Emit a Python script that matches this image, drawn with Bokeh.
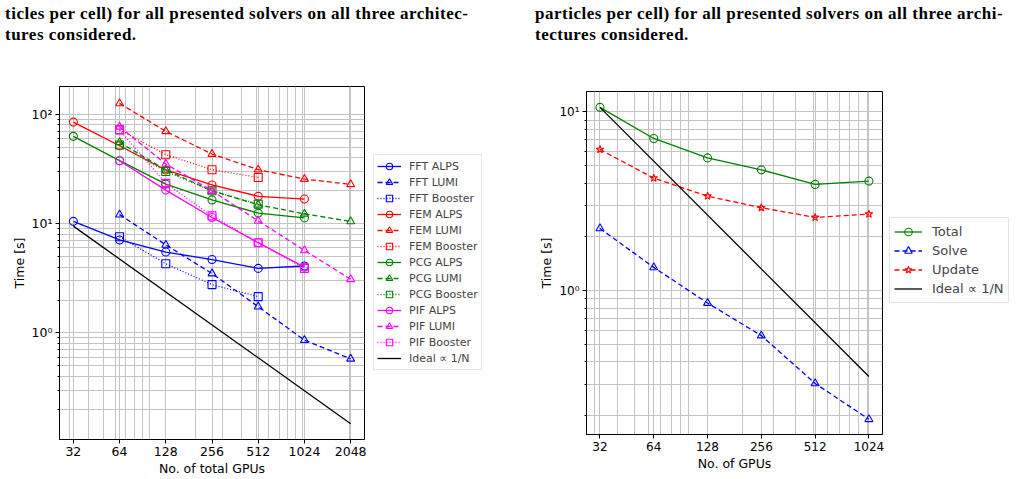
from bokeh.plotting import figure
from bokeh.models import FixedTicker, Legend, LegendItem, Div, Range1d, NumeralTickFormatter
from bokeh.layouts import column, row
from bokeh.embed import file_html
from bokeh.resources import INLINE

# ---------------- captions ----------------
caption_left = ["ticles per cell) for all presented solvers on all three architec-", "tures considered."]
caption_right = ["particles per cell) for all presented solvers on all three archi-", "tectures considered."]

# ---------------- left chart data ----------------
left_x_ticks = [32, 64, 128, 256, 512, 1024, 2048]
left_x_minor = [30, 40, 50, 60, 70, 80, 90, 100, 200, 300, 400, 500, 600, 700, 800, 900, 1000, 2000]
left_y_ticks = [1, 10, 100]
left_y_minor = [0.2, 0.3, 0.4, 0.5, 0.6, 0.7, 0.8, 0.9, 2, 3, 4, 5, 6, 7, 8, 9, 20, 30, 40, 50, 60, 70, 80, 90]
y_tick_labels = {1: "10\u2070", 10: "10\u00b9", 100: "10\u00b2"}

alps_gpus = [32, 64, 128, 256, 512, 1024]
pif_alps_gpus = [64, 128, 256, 512, 1024]
lumi_gpus = [64, 128, 256, 512, 1024, 2048]
booster_gpus = [64, 128, 256, 512]
pif_booster_gpus = [64, 128, 256, 512, 1024]

fft_alps = [10.5, 7.1, 5.5, 4.7, 3.9, 4.1]
fft_lumi = [12.1, 6.4, 3.5, 1.74, 0.86, 0.58]
fft_booster = [7.6, 4.3, 2.77, 2.15]
fem_alps = [85, 51.7, 31, 22.6, 17.8, 16.8]
fem_lumi = [126, 70, 43.4, 31.2, 25.6, 22.9]
fem_booster = [72.4, 42.8, 31.2, 26.5]
pcg_alps = [63, 37.7, 23, 16.5, 12.5, 11.3]
pcg_lumi = [55.5, 31, 20, 14.9, 12.3, 10.5]
pcg_booster = [52.5, 30, 20, 15.1]
pif_alps = [37.7, 20.3, 11.4, 6.7, 4.0]
pif_lumi = [77, 35.2, 20, 10.6, 5.7, 3.1]
pif_booster = [72, 23.4, 11.8, 6.7, 3.9]
ideal_left_gpus = [32, 2048]
ideal_left = [9.5, 0.148]

# ---------------- right chart data ----------------
right_x_ticks = [32, 64, 128, 256, 512, 1024]
right_x_minor = [30, 40, 50, 60, 70, 80, 90, 100, 200, 300, 400, 500, 600, 700, 800, 900, 1000]
right_y_ticks = [1, 10]
right_y_minor = [0.2, 0.3, 0.4, 0.5, 0.6, 0.7, 0.8, 0.9, 2, 3, 4, 5, 6, 7, 8, 9]
right_gpus = [32, 64, 128, 256, 512, 1024]
total = [10.6, 7.1, 5.53, 4.74, 3.93, 4.1]
solve = [2.23, 1.35, 0.853, 0.561, 0.303, 0.191]
update = [6.16, 4.26, 3.38, 2.91, 2.57, 2.68]
ideal_right_gpus = [32, 1024]
ideal_right = [10.6, 0.331]

BLUE, RED, GREEN, MAG = "#0000ff", "#ff0000", "#008000", "#ff00ff"
DASH = {"solid": "solid", "dashed": "5 3", "dotted": "1 2"}
GRID = "#c4c4c4"


def make_fig(fw, fh, xr, yr, mb, xt, xm, yt, ym, xlabel, tick_fs):
    p = figure(frame_width=fw, frame_height=fh, x_axis_type="log", y_axis_type="log",
               x_range=Range1d(*xr), y_range=Range1d(*yr),
               output_backend="svg", toolbar_location=None,
               min_border_left=mb[0], min_border_right=mb[1],
               min_border_top=mb[2], min_border_bottom=mb[3])
    p.background_fill_color = "white"
    p.border_fill_color = "white"
    p.outline_line_color = "black"
    p.outline_line_width = 1
    xtick = FixedTicker(ticks=xt, minor_ticks=xm)
    ytick = FixedTicker(ticks=yt, minor_ticks=ym)
    p.xaxis.ticker = FixedTicker(ticks=xt, minor_ticks=[])
    p.yaxis.ticker = ytick
    p.xgrid.ticker = xtick
    p.ygrid.ticker = ytick
    for g in (p.xgrid[0], p.ygrid[0]):
        g.grid_line_color = GRID
        g.grid_line_width = 1
        g.minor_grid_line_color = GRID
        g.minor_grid_line_width = 1
    p.xaxis.formatter = NumeralTickFormatter(format="0")
    p.yaxis.major_label_overrides = y_tick_labels
    for ax in (p.xaxis[0], p.yaxis[0]):
        ax.axis_line_color = "black"
        ax.major_tick_line_color = "black"
        ax.minor_tick_line_color = "black"
        ax.major_tick_in = 0
        ax.major_tick_out = 4
        ax.minor_tick_in = 0
        ax.minor_tick_out = 2
        ax.major_label_text_font = "DejaVu Sans"
        ax.major_label_text_font_size = tick_fs
        ax.major_label_text_color = "black"
        ax.axis_label_text_font = "DejaVu Sans"
        ax.axis_label_text_font_style = "normal"
        ax.axis_label_text_font_size = "12.5px"
        ax.axis_label_text_color = "black"
        ax.major_label_standoff = 3
        ax.axis_label_standoff = 2
    p.xaxis.minor_tick_out = 0
    p.xaxis.axis_label = xlabel
    p.yaxis.axis_label = "Time [s]"
    return p


def legend_fig(fw, fh, top, bottom):
    # a narrow companion canvas that only shows the legend box
    lf = figure(frame_width=fw, frame_height=fh, x_range=Range1d(0, 1), y_range=Range1d(0, 1),
                output_backend="svg", toolbar_location=None,
                x_axis_location=None, y_axis_location=None,
                min_border_left=0, min_border_right=0, min_border_top=top, min_border_bottom=bottom)
    lf.grid.visible = False
    lf.outline_line_color = None
    lf.background_fill_color = "white"
    lf.border_fill_color = "white"
    return lf


def series(p, x, y, color, style, marker, msize=8):
    r1 = p.line(x, y, line_color=color, line_width=1.3, line_dash=DASH[style])
    if marker is None:
        return [r1]
    r2 = p.scatter(x, y, marker=marker, size=msize, line_color=color, fill_color=None, line_width=1.1)
    return [r1, r2]


# ---------------- left figure ----------------
p1 = make_fig(305, 353, (26, 2520), (0.106, 180), (59, 8, 36, 40),
              left_x_ticks, left_x_minor, left_y_ticks, left_y_minor, "No. of total GPUs", "12.5px")
lf1 = legend_fig(140, 353, 36, 40)

left_entries = [
    ("FFT ALPS", alps_gpus, fft_alps, BLUE, "solid", "circle"),
    ("FFT LUMI", lumi_gpus, fft_lumi, BLUE, "dashed", "triangle"),
    ("FFT Booster", booster_gpus, fft_booster, BLUE, "dotted", "square"),
    ("FEM ALPS", alps_gpus, fem_alps, RED, "solid", "circle"),
    ("FEM LUMI", lumi_gpus, fem_lumi, RED, "dashed", "triangle"),
    ("FEM Booster", booster_gpus, fem_booster, RED, "dotted", "square"),
    ("PCG ALPS", alps_gpus, pcg_alps, GREEN, "solid", "circle"),
    ("PCG LUMI", lumi_gpus, pcg_lumi, GREEN, "dashed", "triangle"),
    ("PCG Booster", booster_gpus, pcg_booster, GREEN, "dotted", "square"),
    ("PIF ALPS", pif_alps_gpus, pif_alps, MAG, "solid", "circle"),
    ("PIF LUMI", lumi_gpus, pif_lumi, MAG, "dashed", "triangle"),
    ("PIF Booster", pif_booster_gpus, pif_booster, MAG, "dotted", "square"),
    ("Ideal \u221d 1/N", ideal_left_gpus, ideal_left, "black", "solid", None),
]
items1 = []
for lab, x, y, c, s, m in left_entries:
    series(p1, x, y, c, s, m)
    # same series in the legend canvas (outside its 0..1 view) so only the key shows
    items1.append(LegendItem(label=lab, renderers=series(lf1, x, y, c, s, m)))

leg1 = Legend(items=items1, location=(1, 69), margin=0, padding=3, spacing=0,
              glyph_width=24, glyph_height=16, label_height=16, label_standoff=8,
              label_text_font="DejaVu Sans", label_text_font_size="11px",
              border_line_color="#cccccc", border_line_width=1, background_fill_color="white")
lf1.add_layout(leg1)

# ---------------- right figure ----------------
p2 = make_fig(296, 343, (26.9, 1220), (0.157, 13), (74, 6, 41, 45),
              right_x_ticks, right_x_minor, right_y_ticks, right_y_minor, "No. of GPUs", "12px")
lf2 = legend_fig(136, 343, 41, 45)
right_entries = [
    ("Total", right_gpus, total, GREEN, "solid", "circle"),
    ("Solve", right_gpus, solve, BLUE, "dashed", "triangle"),
    ("Update", right_gpus, update, RED, "dashed", "star"),
    ("Ideal \u221d 1/N", ideal_right_gpus, ideal_right, "black", "solid", None),
]
items2 = []
for lab, x, y, c, s, m in right_entries:
    series(p2, x, y, c, s, m)
    items2.append(LegendItem(label=lab, renderers=series(lf2, x, y, c, s, m)))
leg2 = Legend(items=items2, location=(1, 131), margin=0, padding=4, spacing=0,
              glyph_width=28, glyph_height=19, label_height=19, label_standoff=10,
              label_text_font="DejaVu Sans", label_text_font_size="13px",
              border_line_color="#cccccc", border_line_width=1, background_fill_color="white")
lf2.add_layout(leg2)

# ---------------- captions ----------------
cap_style = ("font-family:'Liberation Serif',serif;font-weight:bold;font-size:17px;letter-spacing:0.5px;"
             "line-height:21px;white-space:nowrap;color:#000;padding-top:3px;")
d1 = Div(text='<div style="%spadding-left:5px;">%s</div>' % (cap_style, "<br>".join(caption_left)),
         width=512, height=50, margin=0)
d2 = Div(text='<div style="%spadding-left:23px;">%s</div>' % (cap_style, "<br>".join(caption_right)),
         width=512, height=50, margin=0)

col1 = column(d1, row(p1, lf1, spacing=0), spacing=0)
col2 = column(d2, row(p2, lf2, spacing=0), spacing=0)
layout = row(col1, col2, spacing=0)
open("out.html", "w").write(file_html(layout, INLINE))
